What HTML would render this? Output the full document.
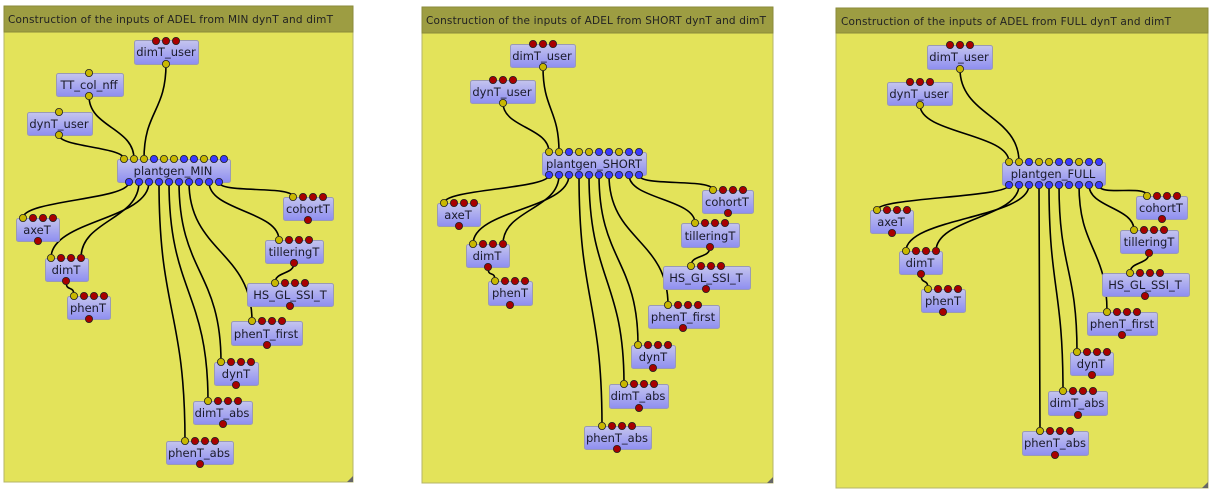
<!DOCTYPE html>
<html><head><meta charset="utf-8"><style>
html,body{margin:0;padding:0;background:#fff;width:1221px;height:500px;overflow:hidden}
svg{display:block}
.t{font-family:"DejaVu Sans","Liberation Sans",sans-serif;font-size:11.5px;fill:#1a1a2a;text-anchor:middle}
.h{font-family:"DejaVu Sans","Liberation Sans",sans-serif;font-size:10.5px;fill:#222}
</style></head><body>
<svg id="s" width="1221" height="500" viewBox="0 0 1221 500" xmlns="http://www.w3.org/2000/svg">
<defs><linearGradient id="ng" x1="0" y1="0" x2="0" y2="1"><stop offset="0" stop-color="#c4c4ee"/><stop offset="1" stop-color="#8e8ef0"/></linearGradient></defs>
<rect x="4" y="6" width="349" height="476" fill="#e3e35a" stroke="#b4b468"/>
<rect x="4" y="6" width="349" height="26" fill="#9d9d42" stroke="#8a8a3a"/>
<text class="h" x="8" y="23" textLength="325">Construction of the inputs of ADEL from MIN dynT and dimT</text>
<rect x="422" y="7" width="351" height="476" fill="#e3e35a" stroke="#b4b468"/>
<rect x="422" y="7" width="351" height="26" fill="#9d9d42" stroke="#8a8a3a"/>
<text class="h" x="426" y="24" textLength="340">Construction of the inputs of ADEL from SHORT dynT and dimT</text>
<rect x="836" y="8" width="372" height="480" fill="#e3e35a" stroke="#b4b468"/>
<rect x="836" y="8" width="372" height="25" fill="#9d9d42" stroke="#8a8a3a"/>
<text class="h" x="841" y="25" textLength="330">Construction of the inputs of ADEL from FULL dynT and dimT</text>
<polygon points="353,476 353,482 347,482" fill="#666"/>
<polygon points="773,477 773,483 767,483" fill="#666"/>
<polygon points="1208,482 1208,488 1202,488" fill="#666"/>
<g id="edges" fill="none" stroke="#000" stroke-width="1.6"></g>
<g id="nodes"></g>
<g id="texts">
<text class="t" x="166" y="56">dimT_user</text>
<text class="t" x="89" y="89">TT_col_nff</text>
<text class="t" x="59" y="128">dynT_user</text>
<text class="t" x="173" y="175">plantgen_MIN</text>
<text class="t" x="308" y="213">cohortT</text>
<text class="t" x="37" y="234">axeT</text>
<text class="t" x="294" y="256">tilleringT</text>
<text class="t" x="66" y="274">dimT</text>
<text class="t" x="88" y="312">phenT</text>
<text class="t" x="290" y="299">HS_GL_SSI_T</text>
<text class="t" x="266" y="338">phenT_first</text>
<text class="t" x="236" y="378">dynT</text>
<text class="t" x="222" y="417">dimT_abs</text>
<text class="t" x="199" y="457">phenT_abs</text>

<text class="t" x="542" y="60">dimT_user</text>
<text class="t" x="502" y="96">dynT_user</text>
<text class="t" x="594" y="168">plantgen_SHORT</text>
<text class="t" x="727" y="206">cohortT</text>
<text class="t" x="458" y="219">axeT</text>
<text class="t" x="710" y="240">tilleringT</text>
<text class="t" x="487" y="260">dimT</text>
<text class="t" x="510" y="297">phenT</text>
<text class="t" x="706" y="282">HS_GL_SSI_T</text>
<text class="t" x="683" y="321">phenT_first</text>
<text class="t" x="653" y="361">dynT</text>
<text class="t" x="638" y="400">dimT_abs</text>
<text class="t" x="617" y="442">phenT_abs</text>

<text class="t" x="959" y="61">dimT_user</text>
<text class="t" x="919" y="98">dynT_user</text>
<text class="t" x="1053" y="178">plantgen_FULL</text>
<text class="t" x="1161" y="212">cohortT</text>
<text class="t" x="891" y="226">axeT</text>
<text class="t" x="1149" y="246">tilleringT</text>
<text class="t" x="920" y="267">dimT</text>
<text class="t" x="943" y="305">phenT</text>
<text class="t" x="1145" y="289">HS_GL_SSI_T</text>
<text class="t" x="1122" y="328">phenT_first</text>
<text class="t" x="1091" y="368">dynT</text>
<text class="t" x="1077" y="407">dimT_abs</text>
<text class="t" x="1055" y="447">phenT_abs</text>
</g>
<g id="dots" stroke="#222" stroke-width="0.8"></g>
</svg>
<script>
var NS="http://www.w3.org/2000/svg";
function el(p,t,a){var e=document.createElementNS(NS,t);for(var k in a)e.setAttribute(k,a[k]);p.appendChild(e);return e;}
var G=document.getElementById('nodes'),D=document.getElementById('dots'),E=document.getElementById('edges');
var C={y:"#c9b800",r:"#a80000",b:"#3a3aff"};
var rects=[[134,40,64,24],[56,73,67,23],[27,112,65,23],[117,159,113,23],[283,197,50,23],[16,218,43,23],[265,240,58,23],[45,258,43,23],[67,296,43,23],[247,283,86,23],[231,321,71,24],[214,362,44,23],[193,401,59,23],[166,441,67,23],
[510,44,65,23],[470,80,65,23],[542,152,104,23],[702,190,51,23],[437,203,43,23],[681,223,58,24],[466,244,43,23],[488,281,44,24],[663,266,87,23],[648,305,71,23],[631,345,44,23],[609,384,59,24],[584,426,67,23],
[927,45,65,24],[887,82,65,23],[1002,162,103,23],[1136,196,51,23],[870,210,43,23],[1120,230,58,23],[899,251,43,23],[921,289,44,23],[1102,273,87,23],[1087,312,70,23],[1070,352,43,23],[1048,391,59,24],[1022,431,66,24]];
rects.forEach(function(r){el(G,'rect',{x:r[0]+.5,y:r[1]+.5,width:r[2],height:r[3],rx:2,fill:'url(#ng)',stroke:'#9a9ab4'});});
function dot(x,y,c){el(D,'circle',{cx:x,cy:y,r:3.6,fill:C[c]});}
function std(x,y,bx,by){dot(x,y,'y');dot(x+10,y,'r');dot(x+20,y,'r');dot(x+30,y,'r');dot(bx,by,'r');}
// panel 1
[156,166,176].forEach(function(x){dot(x,41,'r')});dot(166,64,'y');
dot(89,73,'y');dot(89,96,'y');dot(59,112,'y');dot(59,135,'y');
"yyybyybbybb".split('').forEach(function(c,i){dot(124+i*10,159,c)});
for(var i=0;i<10;i++)dot(129+i*10,182,'b');
std(293,197,308,220);std(23,218,38,241);std(279,240,294,263);std(51,258,66,281);std(74,296,89,319);std(275,283,290,306);std(252,321,267,345);std(221,362,236,385);std(208,401,223,424);std(185,441,200,464);
// panel 2
[533,543,553].forEach(function(x){dot(x,44,'r')});dot(543,67,'y');
[493,503,513].forEach(function(x){dot(x,80,'r')});dot(503,103,'y');
"yybyybbybb".split('').forEach(function(c,i){dot(549+i*10,152,c)});
for(var i=0;i<10;i++)dot(549+i*10,175,'b');
std(713,190,728,213);std(444,203,459,226);std(695,223,710,247);std(473,244,488,267);std(495,281,510,305);std(691,266,706,289);std(668,305,683,328);std(638,345,653,368);std(624,384,639,408);std(602,426,617,449);
// panel 3
[950,960,970].forEach(function(x){dot(x,45,'r')});dot(960,69,'y');
[910,920,930].forEach(function(x){dot(x,82,'r')});dot(920,105,'y');
"yybyybbybb".split('').forEach(function(c,i){dot(1009+i*10,162,c)});
for(var i=0;i<10;i++)dot(1009+i*10,185,'b');
std(1147,196,1162,219);std(877,210,892,233);std(1134,230,1149,253);std(906,251,921,274);std(928,289,943,312);std(1130,273,1145,296);std(1107,312,1122,335);std(1077,352,1092,375);std(1063,391,1078,415);std(1040,431,1055,455);
var edges=[[166,64,144,159],[89,96,134,159],[59,135,124,159],[129,182,23,218],[139,182,81,258],[149,182,51,258],[159,182,185,441],[169,182,208,401],[179,182,221,362],[189,182,252,321],[209,182,279,240],[219,182,293,197],[66,281,74,296],[294,263,275,283],
[543,67,559,152],[503,103,549,152],[549,175,444,203],[559,175,503,244],[569,175,473,244],[579,175,602,426],[589,175,624,384],[599,175,638,345],[609,175,668,305],[629,175,695,223],[639,175,713,190],[488,267,495,281],[710,247,691,266],
[960,69,1019,162],[920,105,1009,162],[1009,185,877,210],[1019,185,936,251],[1029,185,906,251],[1039,185,1040,431],[1049,185,1063,391],[1059,185,1077,352],[1079,185,1107,312],[1089,185,1134,230],[1099,185,1147,196],[921,274,928,289],[1149,253,1130,273]];
edges.forEach(function(e){var d=Math.max(12,(e[3]-e[1])*0.5);
el(E,'path',{d:'M'+e[0]+','+e[1]+' C'+e[0]+','+(e[1]+d)+' '+e[2]+','+(e[3]-d)+' '+e[2]+','+e[3]});});
</script>
</body></html>
